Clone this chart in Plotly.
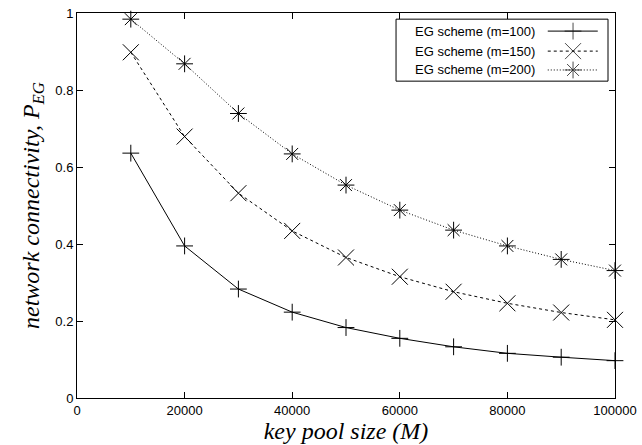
import plotly.graph_objects as go

# key pool size (M)
pool_size = [10000, 20000, 30000, 40000, 50000, 60000, 70000, 80000, 90000, 100000]

# network connectivity
p_m100 = [0.636, 0.395, 0.283, 0.223, 0.183, 0.155, 0.133, 0.116, 0.106, 0.097]
p_m150 = [0.898, 0.679, 0.532, 0.434, 0.365, 0.315, 0.276, 0.246, 0.222, 0.203]
p_m200 = [0.984, 0.868, 0.739, 0.634, 0.553, 0.488, 0.436, 0.395, 0.360, 0.331]

series_names = ["EG scheme (m=100)", "EG scheme (m=150)", "EG scheme (m=200)"]
x_ticks = [0, 20000, 40000, 60000, 80000, 100000]
y_ticks = [0, 0.2, 0.4, 0.6, 0.8, 1]
y_tick_text = ["0", "0.2", "0.4", "0.6", "0.8", "1"]

styles = [
    dict(dash="solid", symbol="cross-thin", size=12),
    dict(dash="3px,3px", symbol="x-thin", size=16),
    dict(dash="1px,2px", symbol="asterisk", size=14),
]

fig = go.Figure()
for name, vals, st in zip(series_names, [p_m100, p_m150, p_m200], styles):
    fig.add_trace(go.Scatter(
        x=pool_size, y=vals, name=name, mode="lines+markers",
        line=dict(color="black", width=1, dash=st["dash"]),
        marker=dict(symbol=st["symbol"], size=st["size"],
                    line=dict(color="black", width=1)),
        showlegend=False, cliponaxis=False,
    ))

# hand-made gnuplot style key (text left, sample right)
row_y = [0.953, 0.901, 0.852]
for name, ry, st in zip(series_names, row_y, styles):
    fig.add_trace(go.Scatter(
        x=[0.875, 0.922, 0.968], y=[ry, ry, ry], xaxis="x2", yaxis="y2",
        mode="lines+markers", showlegend=False, hoverinfo="skip",
        line=dict(color="black", width=1, dash=st["dash"]),
        marker=dict(symbol=st["symbol"], size=[0, st["size"], 0],
                    line=dict(color="black", width=1)),
    ))
    fig.add_annotation(x=0.855, y=ry, xref="paper", yref="paper",
                       text=name, showarrow=False, xanchor="right", yanchor="middle",
                       font=dict(family="Liberation Sans", size=13, color="black"))

fig.add_shape(type="rect", xref="paper", yref="paper",
              x0=0.593, x1=0.987, y0=0.823, y1=0.984,
              line=dict(color="black", width=1), fillcolor="rgba(0,0,0,0)")

axis_font = dict(family="Liberation Sans", size=13, color="black")
fig.update_layout(
    width=642, height=445,
    margin=dict(l=77, r=27, t=13, b=47, autoexpand=False),
    plot_bgcolor="white", paper_bgcolor="white",
    xaxis=dict(
        range=[0, 100000], tickvals=x_ticks, ticktext=[str(v) for v in x_ticks],
        ticks="inside", ticklen=6, tickcolor="black", mirror="ticks",
        showline=True, linecolor="black", linewidth=1, showgrid=False,
        zeroline=False, tickfont=axis_font, automargin=False,
        title=dict(text="<i>key pool size (M)</i>", standoff=0,
                   font=dict(family="Liberation Serif", size=24, color="black")),
    ),
    yaxis=dict(
        range=[0, 1], tickvals=y_ticks, ticktext=y_tick_text,
        ticks="inside", ticklen=6, tickcolor="black", mirror="ticks",
        showline=True, linecolor="black", linewidth=1, showgrid=False,
        zeroline=False, tickfont=axis_font, automargin=False,
        title=dict(text="<i>network connectivity, P<sub>EG</sub></i>", standoff=8,
                   font=dict(family="Liberation Serif", size=24, color="black")),
    ),
    xaxis2=dict(overlaying="x", range=[0, 1], visible=False, domain=[0, 1]),
    yaxis2=dict(overlaying="y", range=[0, 1], visible=False, domain=[0, 1]),
)

# the page body has a default 8px margin; drop it so the figure sits at 0,0
fig.write_html("out.html", config={"displayModeBar": False},
               post_script="document.body.style.margin='0';")
